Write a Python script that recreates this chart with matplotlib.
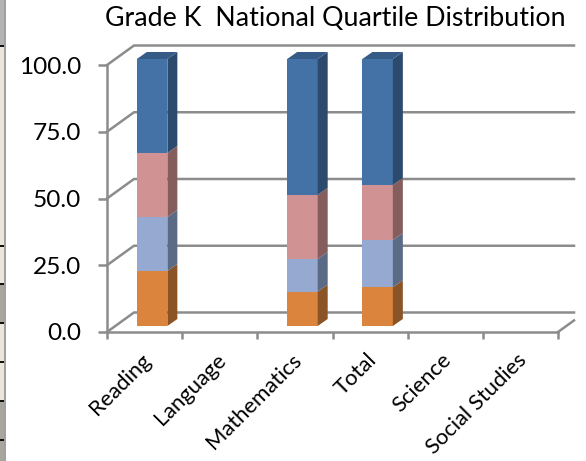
import matplotlib
matplotlib.use("Agg")
import matplotlib.pyplot as plt
from matplotlib.patches import Polygon, Rectangle

plt.rcParams['font.family'] = ['Lato', 'DejaVu Sans']

categories = ["Reading", "Language", "Mathematics", "Total", "Science", "Social Studies"]
q1 = [20.6, 0, 12.9, 14.5, 0, 0]
q2 = [20.2, 0, 12.2, 17.7, 0, 0]
q3 = [24.0, 0, 24.0, 20.6, 0, 0]
q4 = [35.2, 0, 50.9, 47.2, 0, 0]
y_ticks = [0, 25, 50, 75, 100]
y_labels = ["0.0", "25.0", "50.0", "75.0", "100.0"]
title = "Grade K  National Quartile Distribution"

front_colors = ["#DB843D", "#95A9D1", "#D09292", "#4471A6"]
side_colors = ["#8B5426", "#5C6B85", "#855D5D", "#2C4A6E"]
top_colors = ["#B56E33", "#7B8CAD", "#AC7979", "#375B87"]
grid_color = "#8C8C8C"

W, H = 586, 461
fig = plt.figure(figsize=(W / 100, H / 100), dpi=100)
L, R, T, B = 107, 558, 65, 332
ax = fig.add_axes([L / W, 1 - B / H, (R - L) / W, (B - T) / H])
ax.set_xlim(0, 6)
ax.set_ylim(0, 100)
ax.patch.set_alpha(0)

px_x = 6 / (R - L)
px_y = 100 / (B - T)
wall_dx, wall_dy = 27 * px_x, 19.5 * px_y
depth_dx, depth_dy = 10 * px_x, 7 * px_y
base = 6 * px_y
centers = [i + 0.6 for i in range(6)]
width = 30.5 * px_x
right_end = (574 - L) * px_x

# back wall gridlines and floor edges
for v in y_ticks:
    ax.plot([0, wall_dx, right_end], [v, v + wall_dy, v + wall_dy],
            color=grid_color, lw=1.8, zorder=1, clip_on=False, solid_joinstyle='miter')
ax.plot([6, right_end], [0, wall_dy * (right_end - 6) / wall_dx],
        color=grid_color, lw=1.8, zorder=1, clip_on=False)

# stacked bars with depth faces
bottom = [base] * 6
for vals, fc, sc, tc in zip([q1, q2, q3, q4], front_colors, side_colors, top_colors):
    ax.bar(centers, vals, width=width, bottom=bottom, color=fc, zorder=3, clip_on=False)
    for c, b, v in zip(centers, bottom, vals):
        if v <= 0:
            continue
        x1 = c + width / 2
        ax.add_patch(Polygon([(x1, b), (x1 + depth_dx, b + depth_dy),
                              (x1 + depth_dx, b + v + depth_dy), (x1, b + v)],
                             closed=True, fc=sc, ec='none', zorder=3, clip_on=False))
        if fc == front_colors[-1]:
            x0 = c - width / 2
            ax.add_patch(Polygon([(x0, b + v), (x1, b + v),
                                  (x1 + depth_dx, b + v + depth_dy),
                                  (x0 + depth_dx, b + v + depth_dy)],
                                 closed=True, fc=tc, ec='none', zorder=3, clip_on=False))
    bottom = [b + v for b, v in zip(bottom, vals)]

for s in ['top', 'right']:
    ax.spines[s].set_visible(False)
for s in ['left', 'bottom']:
    ax.spines[s].set_color(grid_color)
    ax.spines[s].set_linewidth(1.8)
    ax.spines[s].set_zorder(2)

ax.set_yticks(y_ticks)
ax.set_yticklabels(y_labels, fontsize=17.6, color="black")
ax.set_xticks(range(7))
ax.set_xticklabels([])
ax.tick_params(axis='y', color=grid_color, width=1.8, length=6.5, pad=12)
ax.tick_params(axis='x', color=grid_color, width=1.8, length=5)

for i, name in enumerate(categories):
    ax.annotate(name, xy=(i + 0.5, 0), xytext=(-4, -18), textcoords='offset pixels',
                rotation=45, rotation_mode='anchor', ha='right', va='top',
                fontsize=15.8, color="black", annotation_clip=False)

fig.text(335 / W, 1 - 19 / H, title, ha='center', va='center', fontsize=19.3, color="black")

# strip of the surrounding window at the left edge
def strip(y0, y1, **kw):
    fig.add_artist(Rectangle((0, 1 - y1 / H), 4 / W, (y1 - y0) / H,
                             transform=fig.transFigure, lw=0, **kw))

strip(0, 461, fc="#EAE7DA")
strip(0, 45, fc="#B3B3B3")
for y0, y1 in [(285, 323), (401, 461)]:
    strip(y0, y1, fc="#A8A69C")
fig.add_artist(Rectangle((4 / W, 0), 1.6 / W, 1, transform=fig.transFigure, lw=0, fc="#A0A0A0"))
for y in [46, 246, 284, 323, 362, 401, 440]:
    strip(y - 0.7, y + 0.7, fc="#111111")

fig.savefig("out.png", dpi=100)
